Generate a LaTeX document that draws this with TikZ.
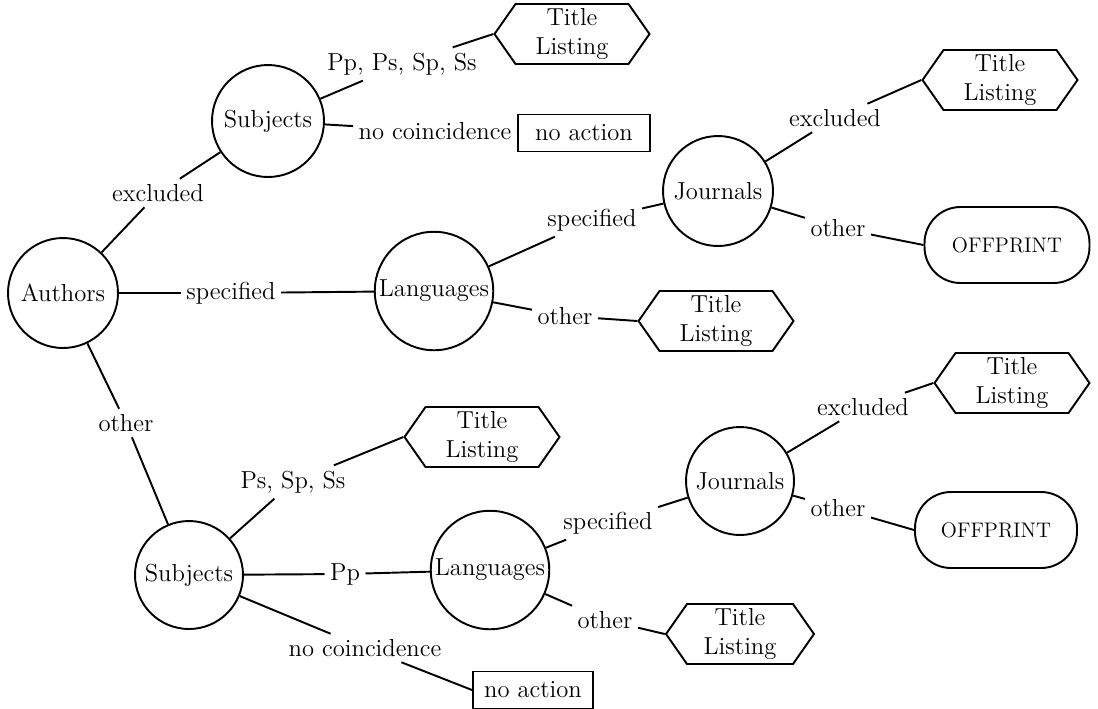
\documentclass[tikz,border=0pt]{standalone}
\usepackage{tikz}
\usetikzlibrary{positioning,shapes.geometric,shapes.symbols}

\newcommand{\inname}[1]{\makebox[0pt]{#1}}

\begin{document}
\begin{tikzpicture}[
    x=0.02cm, y=-0.02cm,
    font=\fontsize{14}{16.5}\selectfont,
    state/.style={circle, draw, line width=1.1pt, minimum size=2.2cm, inner sep=0pt},
    listing/.style={signal, signal to=east and west, signal pointer angle=110, draw, line width=1.1pt, minimum width=3.1cm, minimum height=1.2cm, align=center, inner sep=1pt},
    offprint/.style={rectangle, rounded corners=0.72cm, draw, line width=1.1pt, minimum width=3.3cm, minimum height=1.52cm, font=\fontsize{12}{14}\selectfont},
    noaction/.style={rectangle, draw, line width=1.1pt, minimum height=0.74cm, inner sep=2pt},
    lbl/.style={inner sep=3pt},
    link/.style={line width=1.1pt}
]
    \useasboundingbox (0,0) rectangle (1098,708);

    % decision circles
    \node[state] (authors) at (63,293) {\inname{Authors}};
    \node[state, minimum size=2.24cm] (subjA) at (268,121) {\inname{Subjects}};
    \node[state, minimum size=2.37cm] (langA) at (434,291) {\inname{Languages}};
    \node[state] (jourA) at (718,191) {\inname{Journals}};
    \node[state, minimum size=2.16cm] (subjB) at (189,575) {\inname{Subjects}};
    \node[state, minimum size=2.37cm] (langB) at (490,570) {\inname{Languages}};
    \node[state, minimum size=2.16cm] (jourB) at (740,481) {\inname{Journals}};

    % outcomes
    \node[listing] (titleA) at (572,34) {Title\\Listing};
    \node[listing] (titleB) at (1000,80) {Title\\Listing};
    \node[listing] (titleC) at (716,321) {Title\\Listing};
    \node[listing] (titleD) at (482,437) {Title\\Listing};
    \node[listing] (titleE) at (1012,383) {Title\\Listing};
    \node[listing, minimum width=2.96cm] (titleF) at (740,634) {Title\\Listing};
    \node[offprint] (offA) at (1007,245) {OFFPRINT};
    \node[offprint, minimum width=3.24cm] (offB) at (996,530) {OFFPRINT};
    \node[noaction, minimum width=2.64cm] (noactA) at (584,133) {no action};
    \node[noaction, minimum width=2.4cm] (noactB) at (533,690) {no action};

    % branch labels
    \node[lbl] (excA) at (158,193) {excluded};
    \node[lbl] (ppA) at (402,64) {Pp, Ps, Sp, Ss};
    \node[lbl] (ncA) at (435,131) {no coincidence};
    \node[lbl] (specA) at (231,293) {specified};
    \node[lbl] (specB) at (592,220) {specified};
    \node[lbl] (othA) at (565,316) {other};
    \node[lbl] (excB) at (835,118) {excluded};
    \node[lbl] (othB) at (838,228) {other};
    \node[lbl] (othC) at (126,423) {other};
    \node[lbl] (psB) at (293,482) {Ps, Sp, Ss};
    \node[lbl] (ppB) at (345,574) {Pp};
    \node[lbl] (ncB) at (365,648) {no coincidence};
    \node[lbl] (specC) at (608,523) {specified};
    \node[lbl] (othD) at (605,620) {other};
    \node[lbl] (excC) at (863,407) {excluded};
    \node[lbl] (othE) at (838,508) {other};

    \draw[link] (authors) -- (excA) -- (subjA);
    \draw[link] (subjA) -- (ppA) -- (titleA.west);
    \draw[link] (subjA) -- (ncA) -- (noactA.west);
    \draw[link] (authors) -- (specA) -- (langA);
    \draw[link] (langA) -- (specB) -- (jourA);
    \draw[link] (jourA) -- (excB) -- (titleB.west);
    \draw[link] (jourA) -- (othB) -- (offA.west);
    \draw[link] (langA) -- (othA) -- (titleC.west);
    \draw[link] (authors) -- (othC) -- (subjB);
    \draw[link] (subjB) -- (psB) -- (titleD.west);
    \draw[link] (subjB) -- (ppB) -- (langB);
    \draw[link] (subjB) -- (ncB) -- (noactB.west);
    \draw[link] (langB) -- (specC) -- (jourB);
    \draw[link] (jourB) -- (excC) -- (titleE.west);
    \draw[link] (jourB) -- (othE) -- (offB.west);
    \draw[link] (langB) -- (othD) -- (titleF.west);
\end{tikzpicture}
\end{document}
